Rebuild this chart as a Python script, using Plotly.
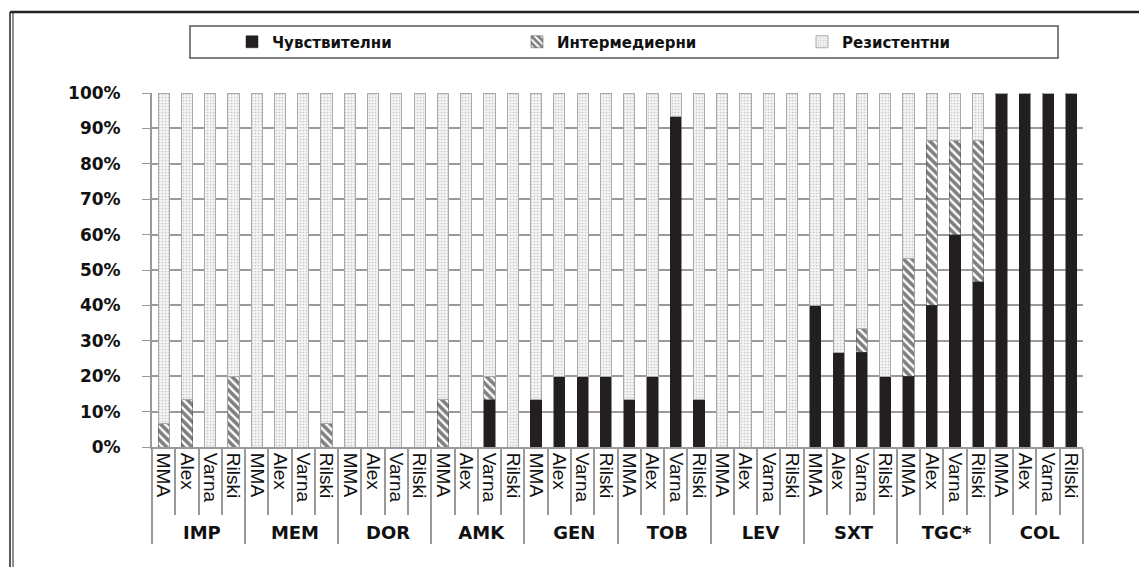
import plotly.graph_objects as go

groups = ["IMP", "MEM", "DOR", "AMK", "GEN", "TOB", "LEV", "SXT", "TGC*", "COL"]
centers = ["MMA", "Alex", "Varna", "Rilski"]

# % sensitive (Чувствителни) per group, per centre
sensitive = [
    [0, 0, 0, 0],          # IMP
    [0, 0, 0, 0],          # MEM
    [0, 0, 0, 0],          # DOR
    [0, 0, 13.3, 0],       # AMK
    [13.3, 20, 20, 20],    # GEN
    [13.3, 20, 93.3, 13.3],# TOB
    [0, 0, 0, 0],          # LEV
    [40, 26.7, 26.7, 20],  # SXT
    [20, 40, 60, 46.7],    # TGC*
    [100, 100, 100, 100],  # COL
]
# % intermediate (Интермедиерни)
intermediate = [
    [6.7, 13.3, 0, 20],
    [0, 0, 0, 6.7],
    [0, 0, 0, 0],
    [13.3, 0, 6.7, 0],
    [0, 0, 0, 0],
    [0, 0, 0, 0],
    [0, 0, 0, 0],
    [0, 0, 6.7, 0],
    [33.3, 46.7, 26.7, 40],
    [0, 0, 0, 0],
]

xg, xc, s_vals, i_vals, r_vals = [], [], [], [], []
for gi, g in enumerate(groups):
    for ci, c in enumerate(centers):
        xg.append("<span style='font-family:DejaVu Sans;font-size:18px'><b>" + g + "</b></span>")
        xc.append(c)
        s = sensitive[gi][ci]
        i = intermediate[gi][ci]
        s_vals.append(s)
        i_vals.append(i)
        r_vals.append(round(100 - s - i, 1))

x = [xg, xc]

fig = go.Figure()
fig.add_trace(go.Bar(
    x=x, y=s_vals, name="Чувствителни",
    marker=dict(color="#231f20", line=dict(color="#231f20", width=0.5)),
))
fig.add_trace(go.Bar(
    x=x, y=i_vals, name="Интермедиерни",
    marker=dict(color="white", line=dict(color="#444", width=0.5),
                pattern=dict(shape="\\", fgcolor="#000", bgcolor="white",
                             size=6, solidity=0.6)),
))
fig.add_trace(go.Bar(
    x=x, y=r_vals, name="Резистентни",
    marker=dict(color="#f2f2f2", line=dict(color="#aaaaaa", width=1),
                pattern=dict(shape=".", fgcolor="#9a9a9a", bgcolor="#f4f4f4",
                             size=3, solidity=0.25)),
))

# page has an 8px body margin: figure coords = screen coords - 8
OFF = 8
W, H = 1147, 567
L, T = 152 - OFF, 93 - OFF
B = H - (447 - OFF)
R = W - (1083 - OFF)
pw, ph = W - L - R, H - T - B
def px(v):
    return (v - OFF - L) / pw
def py(v):
    return (H - B - (v - OFF)) / ph

shapes = [
    dict(type="rect", xref="paper", yref="paper",
         x0=px(190), x1=px(1058), y0=py(58), y1=py(26),
         line=dict(color="#555", width=1.5), fillcolor="rgba(0,0,0,0)"),
    dict(type="line", xref="paper", yref="paper",
         x0=px(10), x1=px(1160), y0=py(12), y1=py(12),
         line=dict(color="#222", width=2.5)),
    dict(type="line", xref="paper", yref="paper",
         x0=px(10), x1=px(10), y0=py(12), y1=py(580),
         line=dict(color="#222", width=1.5)),
    dict(type="line", xref="paper", yref="paper",
         x0=px(13), x1=px(13), y0=py(12), y1=py(580),
         line=dict(color="#222", width=1)),
]

fig.update_layout(
    barmode="stack",
    bargap=0.52,
    width=W, height=H,
    margin=dict(l=L, r=R, t=T, b=B, autoexpand=False),
    paper_bgcolor="white",
    plot_bgcolor="white",
    showlegend=True,
    legend=dict(orientation="h", traceorder="normal",
                x=px(232), xanchor="left",
                y=py(42), yanchor="middle",
                entrywidth=240, entrywidthmode="pixels",
                font=dict(family="DejaVu Sans", size=15, color="#111", weight="bold"),
                bgcolor="rgba(0,0,0,0)"),
    shapes=shapes,
)
fig.update_yaxes(
    range=[0, 100], dtick=10, ticksuffix="%",
    showgrid=True, gridcolor="#9a9a9a", gridwidth=1.5,
    showline=True, linecolor="#9a9a9a", linewidth=2,
    ticks="outside", ticklen=8, tickcolor="#9a9a9a",
    ticklabelstandoff=18,
    tickfont=dict(family="DejaVu Sans", size=17, color="#111", weight="bold"),
    zeroline=False,
)
fig.update_xaxes(
    tickangle=90,
    showline=True, linecolor="#9a9a9a", linewidth=2,
    ticks="outside", ticklen=66, tickcolor="#9a9a9a", tickwidth=2,
    showdividers=True, dividercolor="#9a9a9a", dividerwidth=2,
    tickfont=dict(family="Liberation Sans", size=19, color="#111"),
)

fig.write_html("out.html")
